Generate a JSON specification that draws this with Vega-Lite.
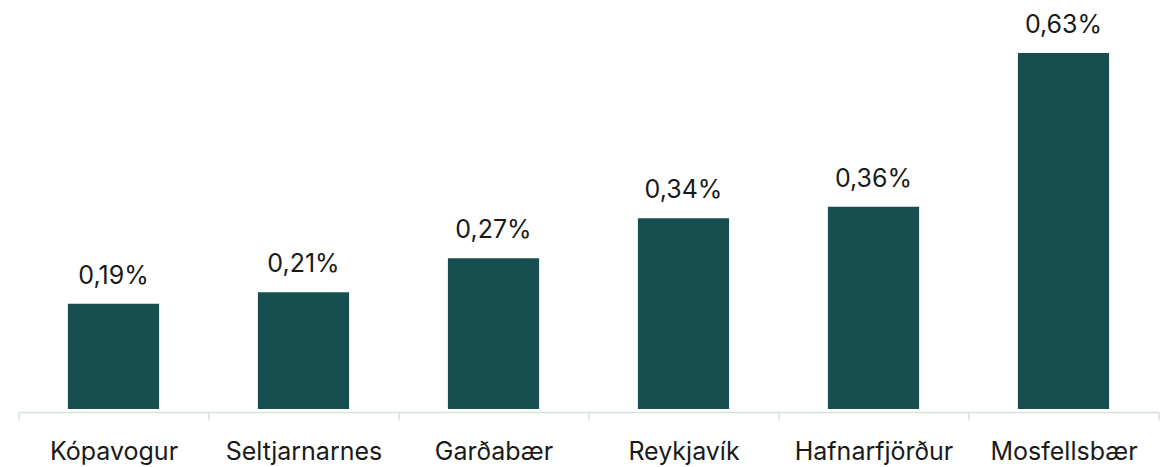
{
  "$schema": "https://vega.github.io/schema/vega-lite/v6.json",
  "width": 1140,
  "height": 356,
  "autosize": {"type": "none"},
  "padding": {"left": 18.5, "top": 53, "right": 9.5, "bottom": 58},
  "background": "white",
  "config": {"view": {"stroke": null}, "font": "Inter"},
  "data": {
    "values": [
      {"sveitarfelag": "Kópavogur", "hlutfall": 0.19, "label": "0,19%"},
      {"sveitarfelag": "Seltjarnarnes", "hlutfall": 0.21, "label": "0,21%"},
      {"sveitarfelag": "Garðabær", "hlutfall": 0.27, "label": "0,27%"},
      {"sveitarfelag": "Reykjavík", "hlutfall": 0.34, "label": "0,34%"},
      {"sveitarfelag": "Hafnarfjörður", "hlutfall": 0.36, "label": "0,36%"},
      {"sveitarfelag": "Mosfellsbær", "hlutfall": 0.63, "label": "0,63%"}
    ]
  },
  "encoding": {
    "x": {
      "field": "sveitarfelag",
      "type": "nominal",
      "sort": null,
      "scale": {"paddingInner": 0, "paddingOuter": 0},
      "axis": {
        "title": null,
        "labelAngle": 0,
        "labelFontSize": 25,
        "labelColor": "#1a1a1a",
        "labelPadding": 19,
        "domainColor": "#d6e3d9",
        "domainWidth": 1.5,
        "tickColor": "#d6e3d9",
        "tickWidth": 1.5,
        "tickSize": 8,
        "tickBand": "extent",
        "offset": 3
      }
    },
    "y": {
      "field": "hlutfall",
      "type": "quantitative",
      "scale": {"domain": [0.0053, 0.63], "nice": false, "zero": false},
      "axis": null
    }
  },
  "layer": [
    {"mark": {"type": "bar", "color": "#174e4f", "width": {"band": 0.48}, "clip": true}},
    {
      "mark": {"type": "text", "baseline": "alphabetic", "dy": -20, "fontSize": 25, "color": "#1a1a1a"},
      "encoding": {"text": {"field": "label"}}
    }
  ]
}
